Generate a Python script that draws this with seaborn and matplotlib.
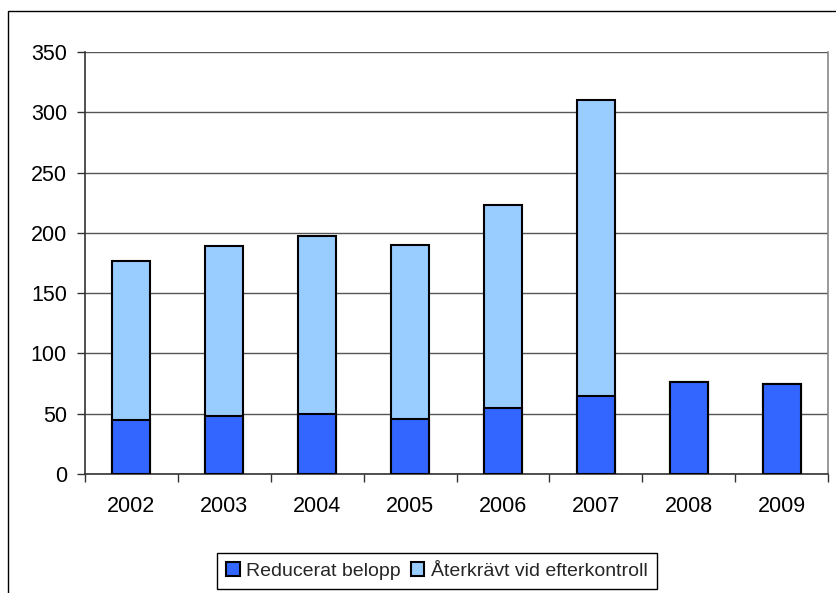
import matplotlib
matplotlib.use("Agg")
import matplotlib.pyplot as plt
import seaborn as sns
import pandas as pd
import numpy as np
from matplotlib.patches import Rectangle, Patch

years = ["2002", "2003", "2004", "2005", "2006", "2007", "2008", "2009"]
reducerat = [45, 48, 50, 46, 55, 65, 76, 75]
aterkravt = [132, 141, 147, 144, 168, 245, 0, 0]
yticks = [0, 50, 100, 150, 200, 250, 300, 350]
labels = ["Reducerat belopp", "Återkrävt vid efterkontroll"]

dark = "#3366FF"
light = "#99CCFF"

sns.set_theme(style="white")
plt.rcParams["font.family"] = ["Liberation Sans", "DejaVu Sans"]

df = pd.DataFrame({"year": years, "red": reducerat, "ater": aterkravt})
df["total"] = df["red"] + df["ater"]

fig = plt.figure(figsize=(8.36, 5.93), dpi=100)
ax = fig.add_axes([85/836, 1-474/593, (828-85)/836, (474-52)/593])

sns.barplot(data=df, x="year", y="total", color=light, saturation=1,
            width=0.41, edgecolor="black", linewidth=1.5, ax=ax, zorder=3)
sns.barplot(data=df, x="year", y="red", color=dark, saturation=1,
            width=0.41, edgecolor="black", linewidth=1.5, ax=ax, zorder=4)

ax.set_xlim(-0.5, len(years) - 0.5)
ax.set_ylim(0, 350)
ax.set_yticks(yticks)
ax.set_yticklabels([str(v) for v in yticks])
ax.set_xlabel("")
ax.set_ylabel("")
ax.yaxis.grid(True, color="#555555", linewidth=1.0, zorder=0)
ax.set_axisbelow(True)

ax.set_xticks(np.arange(len(years)))
ax.set_xticklabels(years)
ax.set_xticks(np.arange(len(years) + 1) - 0.5, minor=True)
ax.tick_params(axis="x", which="major", length=0, pad=16, labelsize=15.5, colors="black")
ax.tick_params(axis="x", which="minor", length=6, width=1, color="#333333", direction="out", bottom=True)
ax.tick_params(axis="y", which="major", length=6, width=1, color="#333333", direction="out", left=True, labelsize=15.5, labelcolor="black", pad=7)

for side in ["left", "bottom"]:
    ax.spines[side].set_color("#333333")
    ax.spines[side].set_linewidth(1.2)
ax.spines["top"].set_visible(False)
ax.spines["right"].set_color("#888888")
ax.spines["right"].set_linewidth(1.2)

# outer chart border
top = 1 - 11/593
fig.patches.append(Rectangle((8/836, -0.2), 2.0, top + 0.2,
                             transform=fig.transFigure, fill=False,
                             edgecolor="black", linewidth=1.0))

handles = [Patch(facecolor=dark, edgecolor="black", linewidth=1.5),
           Patch(facecolor=light, edgecolor="black", linewidth=1.5)]
leg = fig.legend(handles, labels, loc="center", bbox_to_anchor=(437/836, 1-571/593),
                 ncol=2, fontsize=14, frameon=True, fancybox=False,
                 edgecolor="black", framealpha=1, handlelength=0.7, handleheight=0.7,
                 handletextpad=0.35, columnspacing=0.5, borderpad=0.45)
leg.get_frame().set_linewidth(1.0)

fig.savefig("out.png", dpi=100)
